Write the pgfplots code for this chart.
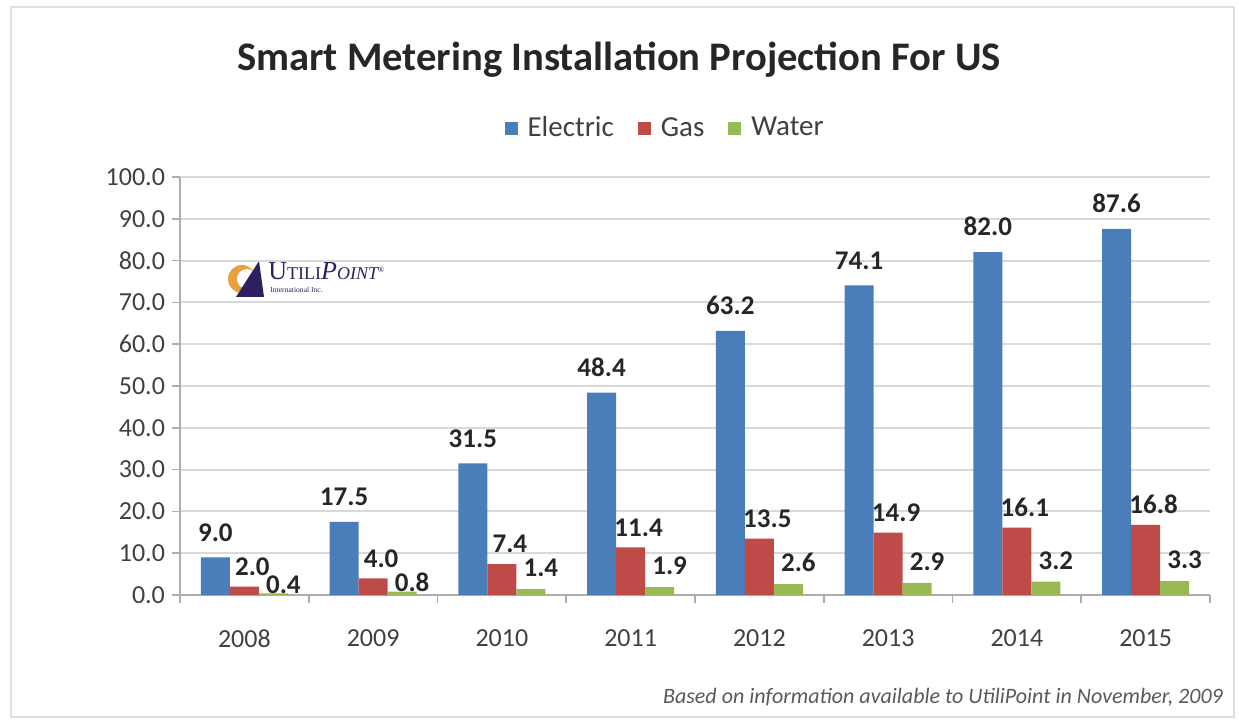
\documentclass[border=0pt]{standalone}
\usepackage{pgfplots}
\pgfplotsset{compat=1.18}
\usepackage{fontspec}
\setmainfont{Carlito}
\newfontfamily\logofont{Liberation Serif}
\definecolor{elec}{RGB}{74,126,187}
\definecolor{gasc}{RGB}{190,75,72}
\definecolor{water}{RGB}{152,185,84}
\definecolor{tickc}{RGB}{64,64,64}
\definecolor{gridc}{RGB}{217,217,217}
\definecolor{logop}{RGB}{46,32,96}
\definecolor{logoo}{RGB}{232,160,64}
\begin{document}
\begin{tikzpicture}
\path (0,0) rectangle (619.5pt,359.5pt);
\draw[gray!25, line width=1pt] (5.5pt,1pt) rectangle (617pt,356pt);
\node[font=\bfseries\fontsize{20.3}{20.3}\selectfont, text=black!85] at (309.5pt,329.5pt) {Smart Metering Installation Projection For US};
\node[font=\itshape\fontsize{11}{11}\selectfont, text=black!65, anchor=east] at (615pt,11pt) {Based on information available to UtiliPoint in November, 2009};
% logo
\fill[logoo] (121pt,220pt) circle (7pt);
\fill[white] (123.5pt,220pt) circle (5pt);
\fill[logop] (118pt,211pt) -- (132pt,211pt) -- (129.5pt,229pt) -- cycle;
\node[anchor=west, inner sep=0pt, text=logop] at (134pt,224pt) {\logofont{\fontsize{13}{13}\selectfont U}{\fontsize{9}{9}\selectfont TILI}{\itshape\fontsize{13}{13}\selectfont P}{\itshape\fontsize{9}{9}\selectfont OINT}\textsuperscript{\fontsize{4}{4}\selectfont\textregistered}};
\node[anchor=west, inner sep=0pt, text=logop] at (135pt,214.5pt) {\logofont\fontsize{3.8}{3.8}\selectfont International Inc.};
\begin{axis}[
  at={(90pt,62pt)}, anchor=south west,
  scale only axis, width=515pt, height=209pt,
  ybar=0pt, bar width=14.5pt,
  xmin=-0.5, xmax=7.5, ymin=0, ymax=100,
  xtick={0,...,7},
  xticklabels={2008,2009,2010,2011,2012,2013,2014,2015},
  minor xtick={-0.5,0.5,...,7.5},
  ytick={0,10,...,100},
  axis x line*=bottom, axis y line*=left,
  axis line style={gridc!80!black, line width=0.8pt, -},
  tick align=outside,
  x tick style={draw=none},
  minor x tick style={draw=gridc!80!black, line width=0.8pt},
  minor tick length=4pt,
  y tick style={draw=gridc!80!black, line width=0.8pt},
  major tick length=4pt,
  ymajorgrids, grid style={gridc, line width=1pt},
  /pgf/number format/assume math mode=true,
  ticklabel style={font=\fontsize{13}{13}\selectfont, text=tickc},
  yticklabel style={/pgf/number format/fixed, /pgf/number format/fixed zerofill, /pgf/number format/precision=1},
  xticklabel style={yshift=-10pt},
  nodes near coords,
  nodes near coords style={font=\bfseries\fontsize{13.5}{13.5}\selectfont, text=black!85,
    /pgf/number format/fixed, /pgf/number format/fixed zerofill, /pgf/number format/precision=1, /pgf/number format/assume math mode=true},
  legend style={at={(0.472,1.117)}, anchor=center, draw=none, legend columns=-1,
    font=\fontsize{14.5}{14.5}\selectfont, text=tickc,
    /tikz/every odd column/.append style={column sep=3pt},
    /tikz/every even column/.append style={column sep=10pt}},
  legend image code/.code={\fill[#1,draw=none] (0pt,-3.25pt) rectangle (6.5pt,3.25pt);},
]
\addplot[fill=elec, draw=none, every node near coord/.append style={yshift=4.5pt}] coordinates {(0,9.0) (1,17.5) (2,31.5) (3,48.4) (4,63.2) (5,74.1) (6,82.0) (7,87.6)};
\addplot[fill=gasc, draw=none, every node near coord/.append style={xshift=4pt, yshift=2pt}] coordinates {(0,2.0) (1,4.0) (2,7.4) (3,11.4) (4,13.5) (5,14.9) (6,16.1) (7,16.8)};
\addplot[fill=water, draw=none, visualization depends on={y \as \wy},
  every node near coord/.append style={xshift=5pt, yshift={ifthenelse(\wy<1,-3.5,2.5)}}] coordinates {(0,0.4) (1,0.8) (2,1.4) (3,1.9) (4,2.6) (5,2.9) (6,3.2) (7,3.3)};
\legend{Electric,Gas,Water}
\end{axis}
\end{tikzpicture}
\end{document}
